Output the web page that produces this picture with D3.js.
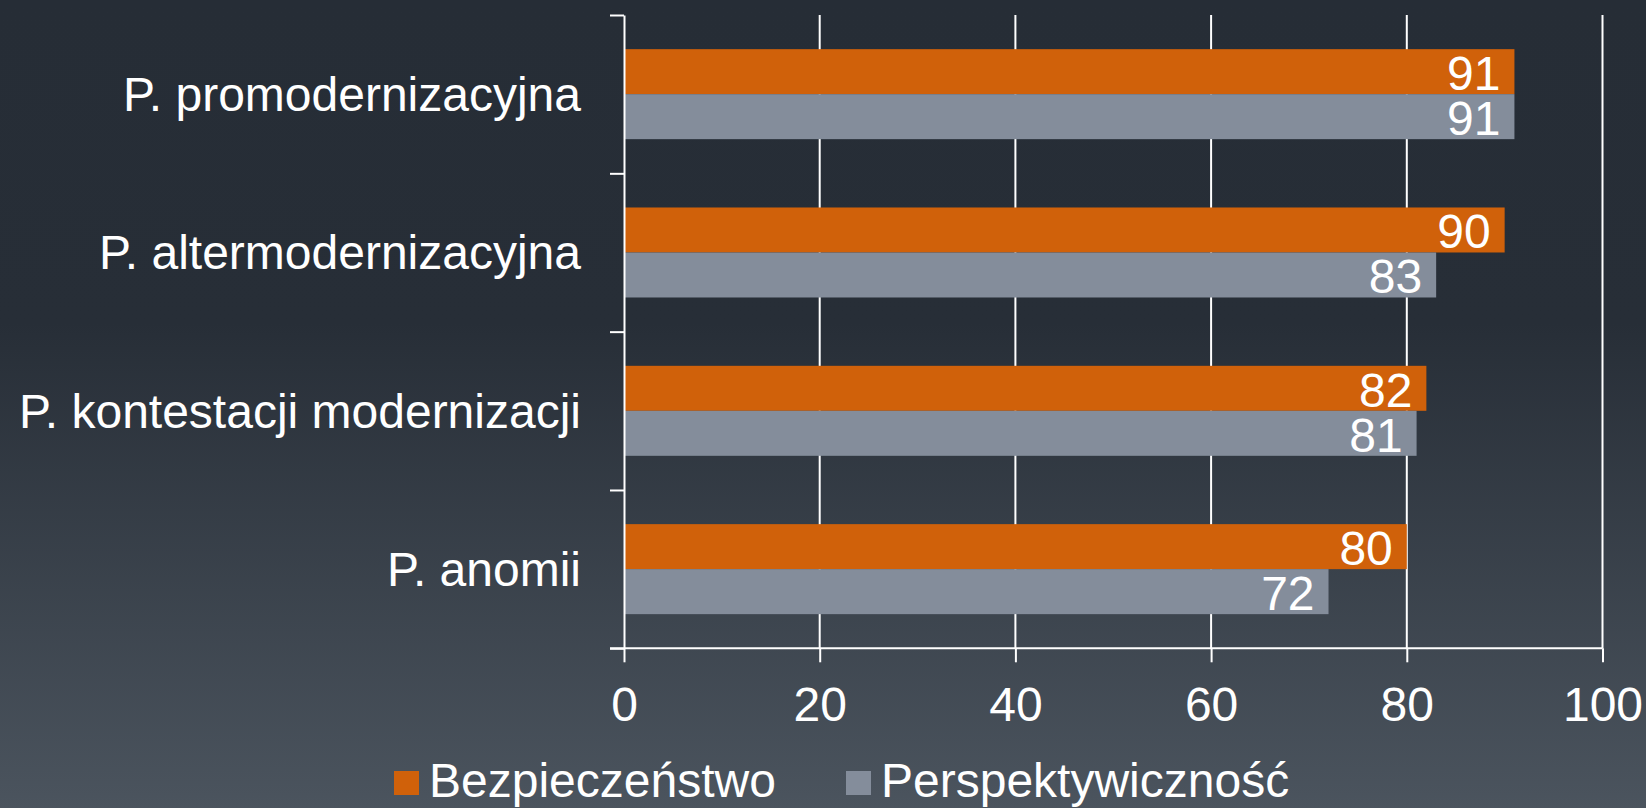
<!DOCTYPE html>
<html>
<head>
<meta charset="utf-8">
<script src="https://cdn.jsdelivr.net/npm/d3@7"></script>
<style>
  html, body { margin: 0; padding: 0; background: #262d36; overflow: hidden; }
  text { font-family: "Liberation Sans", Arial, sans-serif; fill: #fff; }
</style>
</head>
<body>
<div id="chart"></div>
<script>
const width = 1646;
const height = 808;

const categories = ["P. promodernizacyjna", "P. altermodernizacyjna", "P. kontestacji modernizacji", "P. anomii"];
const series = ["Bezpieczeństwo", "Perspektywiczność"];
const bezpieczenstwo = [91, 90, 82, 80];
const perspektywicznosc = [91, 83, 81, 72];
const xTicks = [0, 20, 40, 60, 80, 100];
const colors = ["#d0610a", "#848d9b"];

const values = [bezpieczenstwo, perspektywicznosc];

const svg = d3.select("#chart")
    .append("svg")
    .attr("width", width)
    .attr("height", height);

// background gradient
const grad = svg.append("defs").append("linearGradient")
    .attr("id", "bg")
    .attr("x1", 0).attr("y1", 0).attr("x2", 0).attr("y2", 1);
grad.append("stop").attr("offset", "0").attr("stop-color", "#262d36");
grad.append("stop").attr("offset", "0.4").attr("stop-color", "#272e37");
grad.append("stop").attr("offset", "1").attr("stop-color", "#4b545e");

svg.append("rect")
    .attr("width", width)
    .attr("height", height)
    .attr("fill", "url(#bg)");

const plotTop = 15, plotBottom = 648.3, plotLeft = 624, plotRight = 1602.5;

const x = d3.scaleLinear().domain([0, 100]).range([plotLeft, plotRight]);

const y0 = d3.scaleBand()
    .domain(categories)
    .range([plotTop, plotBottom])
    .paddingInner(0.4315)
    .paddingOuter(0.2157);

const y1 = d3.scaleBand()
    .domain(series)
    .range([0, y0.bandwidth()]);

// edges of the category bands, for the tick marks on the left axis
const yEdge = d3.scaleLinear().domain([0, categories.length]).range([plotTop, plotBottom]);

// grid lines
svg.append("g")
    .selectAll("line")
    .data(xTicks.slice(1))
    .join("line")
    .attr("x1", d => x(d))
    .attr("x2", d => x(d))
    .attr("y1", plotTop)
    .attr("y2", plotBottom)
    .attr("stroke", "#fff")
    .attr("stroke-width", 2);

// bars
const groups = svg.append("g")
    .selectAll("g")
    .data(categories)
    .join("g")
    .attr("transform", d => `translate(0,${y0(d)})`);

groups.selectAll("rect")
    .data((c, i) => series.map((s, j) => ({ s, v: values[j][i], color: colors[j] })))
    .join("rect")
    .attr("x", x(0))
    .attr("y", d => y1(d.s))
    .attr("width", d => x(d.v) - x(0))
    .attr("height", y1.bandwidth())
    .attr("fill", d => d.color);

groups.selectAll("text")
    .data((c, i) => series.map((s, j) => ({ s, v: values[j][i] })))
    .join("text")
    .attr("x", d => x(d.v) - 14)
    .attr("y", d => y1(d.s) + y1.bandwidth() / 2)
    .attr("dy", "0.38em")
    .attr("text-anchor", "end")
    .attr("font-size", 48)
    .text(d => d.v);

// x axis
const xAxis = svg.append("g")
    .attr("transform", `translate(0,${plotBottom})`)
    .call(d3.axisBottom(x).tickValues(xTicks).tickSize(14).tickSizeOuter(0).tickPadding(25));
xAxis.select(".domain").remove();
xAxis.selectAll(".tick line").attr("stroke", "#fff").attr("stroke-width", 2);
xAxis.selectAll(".tick text")
    .attr("font-size", 48)
    .attr("font-family", "Liberation Sans, Arial, sans-serif")
    .attr("fill", "#fff");
xAxis.append("line")
    .attr("x1", plotLeft - 14)
    .attr("x2", plotRight)
    .attr("stroke", "#fff")
    .attr("stroke-width", 2);

// y axis
const yAxis = svg.append("g")
    .attr("transform", `translate(${plotLeft},0)`)
    .call(d3.axisLeft(yEdge).ticks(categories.length).tickSize(14).tickSizeOuter(0).tickFormat(""));
yAxis.select(".domain").attr("stroke", "#fff").attr("stroke-width", 2);
yAxis.selectAll(".tick line").attr("stroke", "#fff").attr("stroke-width", 2);

// category labels
svg.append("g")
    .selectAll("text")
    .data(categories)
    .join("text")
    .attr("x", 581)
    .attr("y", d => y0(d) + y0.bandwidth() / 2)
    .attr("dy", "0.35em")
    .attr("text-anchor", "end")
    .attr("font-size", 48)
    .text(d => d);

// legend
const legendX = [394, 846];
const legend = svg.append("g")
    .selectAll("g")
    .data(series)
    .join("g")
    .attr("transform", (d, i) => `translate(${legendX[i]},771)`);

legend.append("rect")
    .attr("width", 25)
    .attr("height", 24)
    .attr("fill", (d, i) => colors[i]);

legend.append("text")
    .attr("x", 35)
    .attr("y", 26)
    .attr("font-size", 48)
    .text(d => d);
</script>
</body>
</html>
